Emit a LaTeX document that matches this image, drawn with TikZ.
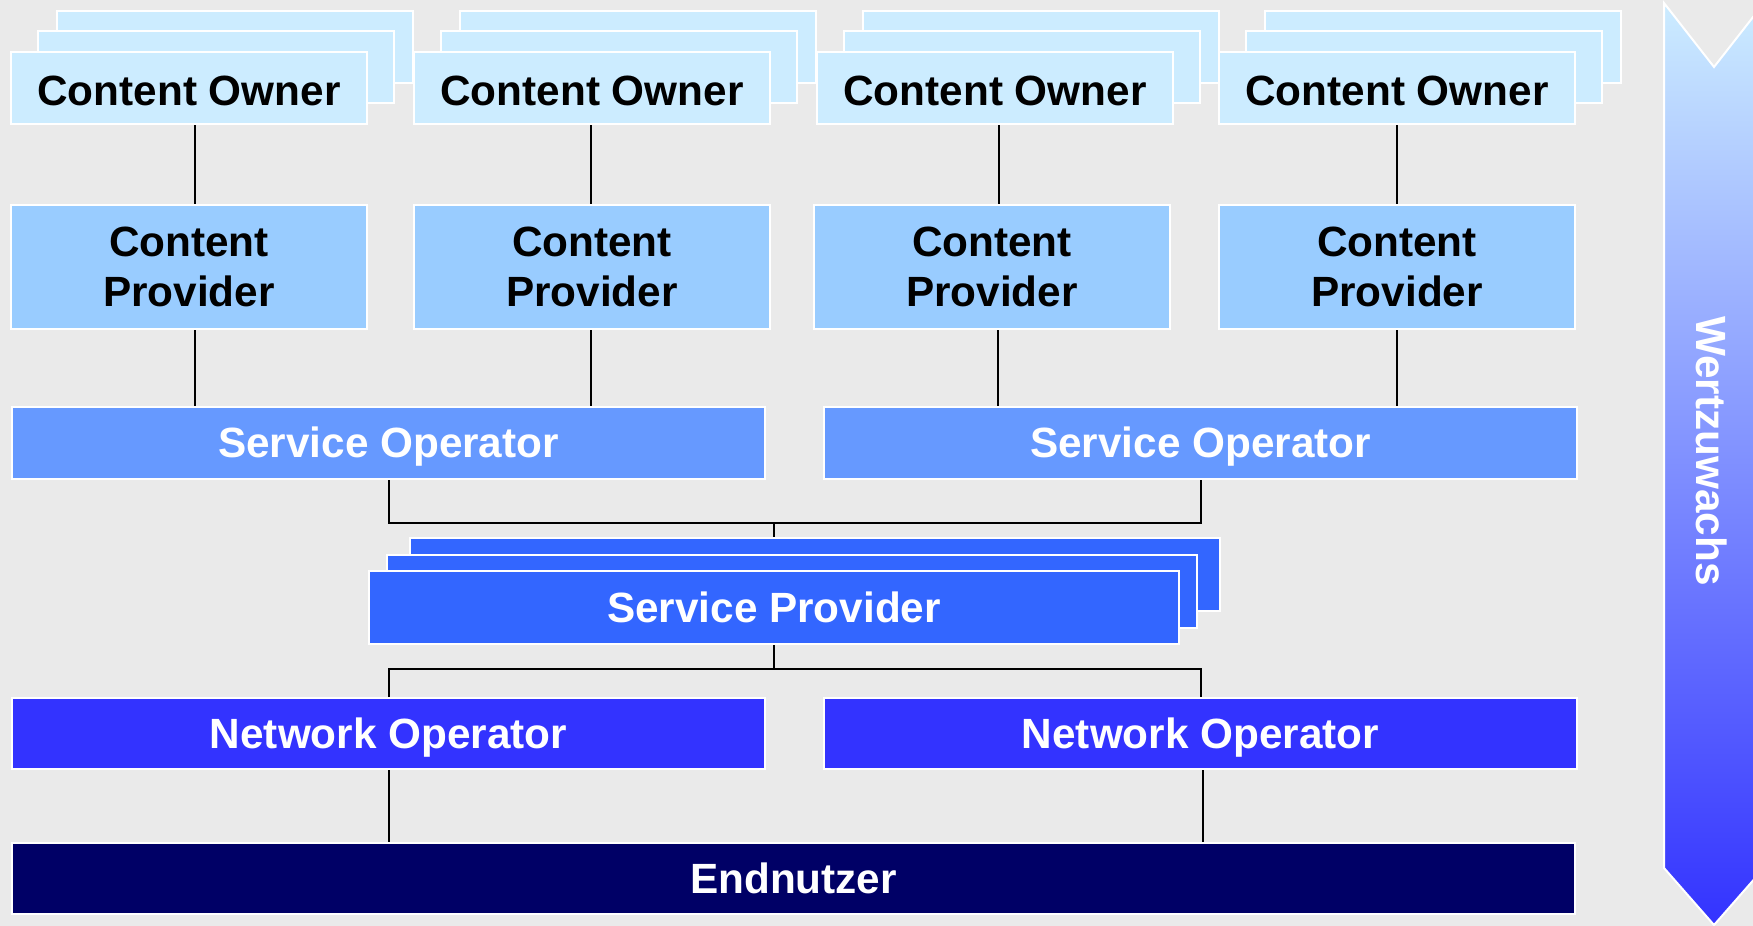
\documentclass[tikz,border=0pt]{standalone}
\usepackage{fontspec}
\setmainfont{Liberation Sans}
\definecolor{bg}{HTML}{EAEAEA}
\definecolor{cowner}{HTML}{CCECFF}
\definecolor{cprov}{HTML}{99CCFF}
\definecolor{sop}{HTML}{6699FF}
\definecolor{sprov}{HTML}{3366FF}
\definecolor{nop}{HTML}{3333FF}
\definecolor{enduser}{HTML}{000066}
\definecolor{arrmid}{HTML}{9AAAFF}
\begin{document}
\begin{tikzpicture}[x=1pt,y=-1pt,
  box/.style={draw=white, line width=2pt, inner sep=0pt, anchor=north west,
    align=center, font=\fontsize{42.3}{50}\selectfont\bfseries},
  oneline/.style={text height=37pt, text depth=8pt},
  cobox/.style={box, text height=42pt, text depth=8pt, fill=cowner, text=black, minimum width=356pt, minimum height=72pt},
  cpbox/.style={box, fill=cprov, text=black, minimum width=356pt, minimum height=124pt},
  sobox/.style={box, oneline, fill=sop, text=white, minimum width=753pt, minimum height=72pt},
  spbox/.style={box, oneline, fill=sprov, text=white, minimum width=810pt, minimum height=73pt},
  nobox/.style={box, oneline, fill=nop, text=white, minimum width=753pt, minimum height=71pt},
  enbox/.style={box, oneline, fill=enduser, text=white, minimum width=1563pt, minimum height=71pt},
  conn/.style={draw=black, line width=2pt}]
\useasboundingbox (0,0) rectangle (1753,926);
\fill[bg] (0,0) rectangle (1753,926);

% Content owners (stacks)
\foreach \x/\n in {10/1,413/2,816/3,1218/4}{
  \node[cobox] (cob\n) at (\x+46,10) {};
  \node[cobox] (coa\n) at (\x+27,30) {};
  \node[cobox] (co\n) at (\x,51) {Content Owner};
}

% Content providers
\node[cpbox] (cp1) at (10,204) {Content\\Provider};
\node[cpbox] (cp2) at (413,204) {Content\\Provider};
\node[cpbox] (cp3) at (813,204) {Content\\Provider};
\node[cpbox] (cp4) at (1218,204) {Content\\Provider};

% Service operators
\node[sobox] (so1) at (11,406) {Service Operator};
\node[sobox] (so2) at (823,406) {Service Operator};

% Service provider stack
\node[spbox] (sp3) at (409,537) {};
\node[spbox] (sp2) at (386,554) {};
\node[spbox] (sp1) at (368,570) {Service Provider};

% Network operators
\node[nobox] (no1) at (11,697) {Network Operator};
\node[nobox] (no2) at (823,697) {Network Operator};

% End users
\node[enbox] (en) at (11,842) {Endnutzer};

% Connectors CO -> CP
\draw[conn] ([xshift=6pt]co1.south) -- ([xshift=6pt]co1.south |- cp1.north);
\draw[conn] ([xshift=-1pt]co2.south) -- ([xshift=-1pt]co2.south |- cp2.north);
\draw[conn] ([xshift=4pt]co3.south) -- ([xshift=4pt]co3.south |- cp3.north);
\draw[conn] (co4.south) -- (co4.south |- cp4.north);
% Connectors CP -> SO
\draw[conn] ([xshift=6pt]cp1.south) -- ([xshift=6pt]cp1.south |- so1.north);
\draw[conn] ([xshift=-1pt]cp2.south) -- ([xshift=-1pt]cp2.south |- so1.north);
\draw[conn] ([xshift=6pt]cp3.south) -- ([xshift=6pt]cp3.south |- so2.north);
\draw[conn] (cp4.south) -- (cp4.south |- so2.north);

% SO -> SP bus
\coordinate (jt) at (774,523);
\draw[conn] (so1.south) |- (jt) -| (so2.south);
\draw[conn] (jt) -- (jt |- sp3.north);

% SP -> NO bus
\coordinate (jb) at (774,669);
\draw[conn] (sp1.south -| jb) -- (jb);
\draw[conn] (no1.north) |- (jb) -| (no2.north);

% NO -> EN
\draw[conn] (no1.south) -- (no1.south |- en.north);
\draw[conn] ([xshift=2pt]no2.south) -- ([xshift=2pt]no2.south |- en.north);

% Wertzuwachs arrow
\begin{scope}
\clip (0,0) rectangle (1753,926);
\shade[top color=cowner, middle color=arrmid, bottom color=nop]
  (1664,3) -- (1714,67) -- (1764,3) -- (1764,868) -- (1714,925) -- (1664,868) -- cycle;
\draw[white, line width=2pt, line join=miter]
  (1664,3) -- (1714,67) -- (1764,3) -- (1764,868) -- (1714,925) -- (1664,868) -- cycle;
\end{scope}
\node[rotate=-90, text=white, font=\fontsize{42.3}{50}\selectfont\bfseries] (wz) at (1712,451) {Wertzuwachs};
\end{tikzpicture}
\end{document}
